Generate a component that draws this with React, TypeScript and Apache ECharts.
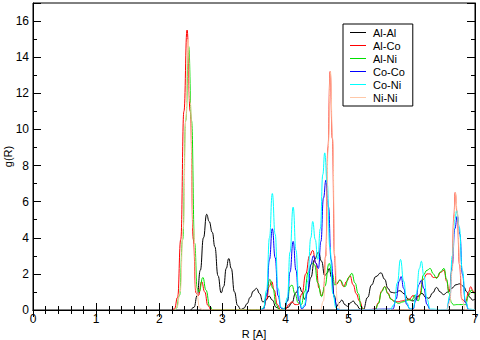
import React, { useEffect, useRef } from "react";
import * as echarts from "echarts";

type Pt = [number, number];

const seriesNames = ["Al-Al", "Al-Co", "Al-Ni", "Co-Co", "Co-Ni", "Ni-Ni"];
const seriesColors = ["#000000", "#ff0000", "#00e000", "#0000ff", "#00ffff", "#ffc8a8"];
const xTickValues = [0, 1, 2, 3, 4, 5, 6, 7];
const yTickValues = [0, 2, 4, 6, 8, 10, 12, 14, 16];

const alAl: Pt[] = [
  [2.5, 0], [2.55, 0.15], [2.6, 0.8], [2.65, 2.2], [2.7, 4.0], [2.75, 5.3], [2.79, 4.9],
  [2.84, 4.3], [2.88, 3.5], [2.93, 1.9], [2.98, 0.95], [3.02, 1.3], [3.06, 2.3], [3.1, 2.85],
  [3.14, 2.3], [3.19, 1.0], [3.24, 0.25], [3.29, 0.03], [3.34, 0.1], [3.39, 0.35], [3.44, 0.7],
  [3.49, 1.05], [3.54, 1.2], [3.59, 0.9], [3.64, 0.45], [3.69, 0.55], [3.74, 0.77], [3.79, 0.55],
  [3.85, 0.15], [3.92, 0.02], [3.98, 0.05], [4.04, 0.15], [4.1, 0.4], [4.16, 0.95], [4.22, 1.29],
  [4.26, 1.0], [4.3, 0.6], [4.35, 1.0], [4.4, 1.8], [4.46, 2.8], [4.52, 3.2], [4.57, 2.7],
  [4.62, 1.9], [4.66, 2.05], [4.69, 2.3], [4.73, 1.8], [4.77, 0.8], [4.81, 0.2], [4.85, 0.4],
  [4.89, 0.55], [4.94, 0.3], [4.98, 0.2], [5.03, 0.4], [5.07, 0.5], [5.12, 0.3], [5.18, 0.05],
  [5.23, 0.02], [5.3, 0.7], [5.36, 1.38], [5.43, 1.85], [5.51, 2.06], [5.57, 1.7], [5.62, 1.2],
  [5.67, 0.98], [5.73, 0.95], [5.81, 1.07], [5.88, 0.9], [5.94, 0.6], [6.02, 0.5], [6.09, 0.75],
  [6.16, 0.92], [6.22, 0.7], [6.27, 0.65], [6.33, 0.95], [6.39, 1.25], [6.45, 1.0], [6.5, 0.85],
  [6.57, 1.0], [6.63, 1.2], [6.7, 1.4], [6.76, 1.45], [6.82, 1.3], [6.87, 1.0], [6.92, 0.7],
  [6.96, 0.55], [7.0, 0.6],
];

const alCo: Pt[] = [
  [2.2, 0], [2.24, 0.06], [2.29, 0.7], [2.34, 3.9], [2.39, 11.0], [2.44, 15.5], [2.49, 11.0],
  [2.54, 3.9], [2.58, 0.95], [2.62, 0.8], [2.67, 1.57], [2.72, 1.0], [2.77, 0.25], [2.82, 0.02],
  [2.9, 0], [3.6, 0], [3.65, 0.1], [3.7, 0.6], [3.74, 1.3], [3.78, 1.57], [3.82, 1.1], [3.87, 0.3],
  [3.92, 0.02], [4.0, 0.05], [4.05, 0.3], [4.1, 0.45], [4.15, 0.3], [4.2, 0.3], [4.26, 0.9],
  [4.32, 2.0], [4.38, 3.0], [4.43, 3.3], [4.48, 2.6], [4.53, 1.2], [4.57, 0.8], [4.6, 1.0],
  [4.636, 3.0], [4.671, 9.0], [4.706, 13.2], [4.741, 9.5], [4.776, 3.0], [4.8, 1.4], [4.86, 1.66],
  [4.92, 1.3], [4.97, 1.6], [5.02, 1.9], [5.07, 1.4], [5.12, 0.9], [5.17, 0.5], [5.23, 0.05],
  [5.3, 0], [5.42, 0.05], [5.47, 0.4], [5.52, 1.05], [5.57, 1.3], [5.62, 0.95], [5.67, 0.6],
  [5.72, 0.5], [5.78, 0.45], [5.84, 0.5], [5.9, 0.55], [5.96, 0.6], [6.02, 0.8], [6.07, 0.6],
  [6.12, 0.8], [6.18, 1.7], [6.24, 2.0], [6.29, 2.0], [6.34, 1.8], [6.4, 1.8], [6.46, 2.1],
  [6.51, 2.2], [6.55, 1.6], [6.59, 1.0], [6.636, 2.2], [6.666, 5.2], [6.686, 6.5], [6.716, 5.4],
  [6.756, 2.5], [6.79, 0.6], [6.85, 0.45], [6.9, 1.0], [6.93, 1.29], [6.97, 1.05], [7.0, 0.9],
];

const alNi: Pt[] = [
  [2.25, 0], [2.27, 0.1], [2.32, 0.8], [2.37, 3.9], [2.42, 10.5], [2.465, 14.6], [2.51, 10.5],
  [2.56, 3.7], [2.6, 1.2], [2.63, 1.0], [2.69, 1.8], [2.74, 1.1], [2.8, 0.2], [2.85, 0], [3.6, 0],
  [3.65, 0.1], [3.7, 0.9], [3.75, 1.7], [3.8, 1.2], [3.85, 0.3], [3.9, 0.02], [3.98, 0.05],
  [4.03, 0.5], [4.07, 1.3], [4.1, 1.38], [4.15, 0.9], [4.2, 0.4], [4.25, 0.3], [4.3, 1.0],
  [4.36, 2.1], [4.42, 2.6], [4.46, 2.5], [4.51, 1.5], [4.57, 0.74], [4.62, 1.3], [4.69, 2.58],
  [4.74, 2.0], [4.78, 1.38], [4.82, 1.5], [4.86, 1.66], [4.94, 1.29], [5.0, 1.8], [5.05, 2.03],
  [5.1, 1.5], [5.15, 0.92], [5.2, 0.15], [5.25, 0], [5.42, 0], [5.47, 0.35], [5.52, 1.0],
  [5.57, 1.29], [5.62, 0.9], [5.67, 0.6], [5.73, 0.45], [5.79, 0.37], [5.86, 0.45], [5.94, 0.55],
  [6.0, 0.55], [6.05, 0.83], [6.1, 0.5], [6.14, 0.9], [6.18, 1.93], [6.24, 2.2], [6.29, 2.3],
  [6.34, 2.0], [6.39, 1.75], [6.45, 2.1], [6.51, 2.3], [6.55, 1.7], [6.59, 0.92], [6.63, 0.4],
  [6.66, 0.28], [6.72, 0.3], [6.78, 0.3], [6.85, 0.3], [6.9, 0.8], [6.94, 1.1], [6.98, 0.95],
  [7.0, 0.9],
];

const coCo: Pt[] = [
  [3.6, 0], [3.65, 0.05], [3.7, 0.8], [3.745, 2.8], [3.79, 4.5], [3.835, 2.9], [3.88, 0.8],
  [3.93, 0.1], [3.98, 0.02], [4.03, 0.5], [4.07, 2.1], [4.12, 3.8], [4.165, 2.2], [4.21, 0.5],
  [4.26, 0.05], [4.3, 0.2], [4.35, 1.0], [4.4, 2.5], [4.44, 3.0], [4.48, 2.6], [4.52, 2.3],
  [4.56, 3.8], [4.6, 6.2], [4.64, 7.2], [4.68, 5.7], [4.72, 2.8], [4.77, 0.7], [4.82, 0.05],
  [4.9, 0], [5.7, 0.05], [5.75, 0.6], [5.8, 1.6], [5.83, 1.85], [5.87, 1.2], [5.92, 0.3],
  [5.97, 0.05], [6.02, 0.05], [6.06, 0.5], [6.11, 1.4], [6.15, 1.65], [6.19, 1.2], [6.24, 0.3],
  [6.29, 0.02], [6.55, 0], [6.6, 0.6], [6.64, 2.5], [6.68, 4.5], [6.72, 5.2], [6.76, 4.2],
  [6.8, 2.0], [6.85, 0.4], [6.9, 0.02], [7.0, 0],
];

const coNi: Pt[] = [
  [3.6, 0], [3.65, 0.1], [3.7, 1.1], [3.745, 4.0], [3.79, 6.45], [3.835, 4.2], [3.88, 1.2],
  [3.93, 0.15], [3.98, 0.05], [4.03, 0.7], [4.07, 3.2], [4.12, 5.7], [4.165, 3.3], [4.21, 0.8],
  [4.26, 0.1], [4.3, 0.3], [4.35, 1.6], [4.4, 4.0], [4.43, 4.9], [4.47, 3.9], [4.51, 2.8],
  [4.55, 4.5], [4.59, 7.5], [4.62, 8.7], [4.66, 7.0], [4.7, 3.5], [4.75, 0.9], [4.8, 0.1],
  [4.85, 0], [5.65, 0], [5.72, 0.3], [5.77, 1.5], [5.82, 2.8], [5.87, 1.6], [5.92, 0.4],
  [5.97, 0.05], [6.02, 0.1], [6.07, 0.9], [6.12, 2.3], [6.15, 2.7], [6.19, 1.9], [6.24, 0.6],
  [6.29, 0.05], [6.55, 0], [6.6, 0.8], [6.64, 3.0], [6.68, 5.0], [6.71, 5.5], [6.75, 4.6],
  [6.8, 2.2], [6.85, 0.5], [6.9, 0.05], [7.0, 0],
];

const niNi: Pt[] = [
  [2.25, 0], [2.28, 0.15], [2.33, 1.0], [2.38, 4.5], [2.42, 10.5], [2.455, 15.0], [2.49, 11.5],
  [2.54, 4.5], [2.59, 1.0], [2.64, 0.1], [2.7, 0], [4.55, 0], [4.6, 0.5], [4.64, 3.0], [4.675, 9.0],
  [4.71, 13.2], [4.745, 9.5], [4.78, 3.0], [4.82, 0.5], [4.87, 0], [6.55, 0], [6.6, 0.4],
  [6.64, 2.2], [6.67, 5.2], [6.69, 6.5], [6.72, 5.4], [6.76, 2.5], [6.8, 0.5], [6.85, 0],
  [7.0, 0],
];

const seriesData: Pt[][] = [alAl, alCo, alNi, coCo, coNi, niNi];

const FONT = "'Liberation Sans', Arial, Helvetica, sans-serif";

export default function App() {
  const ref = useRef<HTMLDivElement>(null);
  useEffect(() => {
    if (!ref.current) return;
    const chart = echarts.init(ref.current, null, { renderer: "svg" });
    const axisLine = { show: true, lineStyle: { color: "#000", width: 1 } };
    const baseX = {
      type: "value" as const,
      min: 0,
      max: 7,
      interval: 1,
      splitLine: { show: false },
      axisLine,
      z: 10,
    };
    const baseY = {
      type: "value" as const,
      min: 0,
      max: 17,
      splitLine: { show: false },
      z: 10,
    };
    chart.setOption({
      animation: false,
      backgroundColor: "#fff",
      textStyle: { fontFamily: FONT },
      grid: {
        left: 33, right: 5, top: 3, bottom: 30, containLabel: false,
        outerBoundsMode: "none",
        show: true, borderColor: "#000", borderWidth: 1, backgroundColor: "transparent",
      },
      legend: {
        data: seriesNames,
        orient: "vertical",
        left: 343,
        top: 24,
        backgroundColor: "#fff",
        borderColor: "#000",
        borderWidth: 1,
        borderRadius: 0,
        padding: [3, 8, 3, 7],
        itemWidth: 16,
        itemHeight: 1,
        itemGap: 2,
        icon: "rect",
        selectedMode: false,
        z: 20,
        textStyle: { fontSize: 11, fontFamily: FONT, color: "#000", lineHeight: 11, padding: [0, 0, 0, 2] },
      },
      xAxis: [
        {
          ...baseX,
          position: "bottom",
          name: "R [A]",
          nameLocation: "middle",
          nameGap: 18,
          nameMoveOverlap: false,
          nameTextStyle: { fontSize: 11, color: "#000", fontFamily: FONT, verticalAlign: "top" },
          axisTick: { show: true, inside: true, length: 7, lineStyle: { color: "#000" } },
          minorTick: { show: true, splitNumber: 5, length: 4, lineStyle: { color: "#000" } },
          axisLabel: {
            show: true, fontSize: 12, color: "#000", margin: 3, fontFamily: FONT,
            formatter: (v: number) => (xTickValues.includes(v) ? String(v) : ""),
          },
        },
        {
          ...baseX,
          position: "top",
          axisTick: { show: true, inside: true, length: 7, lineStyle: { color: "#000" } },
          minorTick: { show: true, splitNumber: 5, length: 4, lineStyle: { color: "#000" } },
          axisLabel: { show: false },
        },
      ],
      yAxis: [
        {
          ...baseY,
          position: "left",
          interval: 1,
          axisLine,
          name: "g(R)",
          nameLocation: "middle",
          nameGap: 25,
          nameRotate: 90,
          nameMoveOverlap: false,
          nameTextStyle: { fontSize: 11, color: "#000", fontFamily: FONT, verticalAlign: "middle" },
          axisTick: { show: true, inside: true, length: 4, lineStyle: { color: "#000" } },
          axisLabel: {
            show: true, fontSize: 12, color: "#000", margin: 4, fontFamily: FONT,
            formatter: (v: number) => (yTickValues.includes(v) ? String(v) : ""),
          },
        },
        {
          ...baseY,
          position: "left",
          interval: 2,
          axisLine: { show: false },
          axisTick: { show: true, inside: true, length: 8, lineStyle: { color: "#000" } },
          axisLabel: { show: false },
        },
        {
          ...baseY,
          position: "right",
          interval: 1,
          axisLine,
          axisTick: { show: true, inside: true, length: 4, lineStyle: { color: "#000" } },
          axisLabel: { show: false },
        },
        {
          ...baseY,
          position: "right",
          interval: 2,
          axisLine: { show: false },
          axisTick: { show: true, inside: true, length: 8, lineStyle: { color: "#000" } },
          axisLabel: { show: false },
        },
      ],
      series: seriesNames.map((name, i) => ({
        name,
        type: "line",
        xAxisIndex: 0,
        yAxisIndex: 0,
        data: seriesData[i],
        showSymbol: false,
        symbol: "none",
        smooth: 0.5,
        smoothMonotone: "x",
        color: seriesColors[i],
        lineStyle: { color: seriesColors[i], width: 1 },
        itemStyle: { color: seriesColors[i] },
        z: 2,
        z2: i,
      })),
    });
    return () => chart.dispose();
  }, []);
  return (
    <div
      ref={ref}
      style={{ position: "fixed", left: 0, top: 0, width: 480, height: 340, background: "#fff" }}
    />
  );
}
